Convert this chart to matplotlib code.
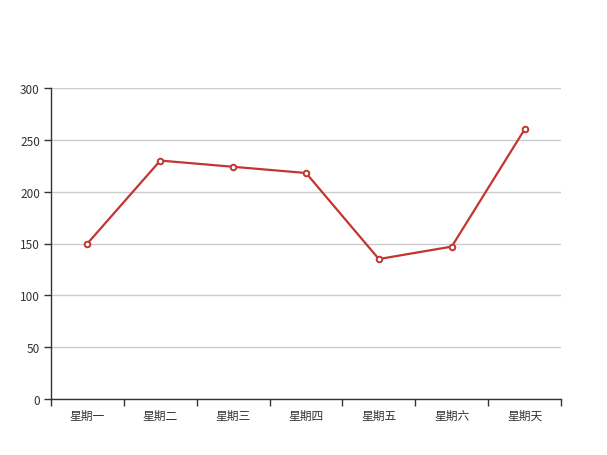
import numpy as np
from matplotlib import pyplot as plt

plt.rcParams['font.family'] = ['Noto Sans CJK SC', 'DejaVu Sans']

days = ['星期一', '星期二', '星期三', '星期四', '星期五', '星期六', '星期天']
values = [150, 230, 224, 218, 135, 147, 260]
yticks = [0, 50, 100, 150, 200, 250, 300]

fig = plt.figure(figsize=(6.07, 4.56), dpi=100)
ax = fig.add_axes([51 / 607, 56 / 456, 510 / 607, 311 / 456])

x = np.arange(len(days))
ax.plot(x, values, color='#c23531', linewidth=1.6, marker='o', markersize=4,
        markerfacecolor='white', markeredgecolor='#c23531', markeredgewidth=1.4,
        zorder=3)

ax.set_xlim(-0.5, len(days) - 0.5)
ax.set_ylim(0, 300)
ax.set_yticks(yticks)
ax.set_xticks(x)
ax.set_xticklabels(days)
ax.set_xticks(np.arange(len(days) + 1) - 0.5, minor=True)
ax.tick_params(axis='x', which='major', length=0, pad=7, labelsize=8.5, labelcolor='#333333')
ax.tick_params(axis='x', which='minor', length=5, color='#333333', width=1)
ax.tick_params(axis='y', length=5, color='#333333', width=1, pad=3, labelsize=8.5, labelcolor='#333333')

ax.grid(axis='y', color='#cccccc', linewidth=1)
ax.set_axisbelow(True)
for side in ['top', 'right']:
    ax.spines[side].set_visible(False)
for side in ['left', 'bottom']:
    ax.spines[side].set_color('#333333')
    ax.spines[side].set_linewidth(1)

fig.savefig('out.png', dpi=100)
